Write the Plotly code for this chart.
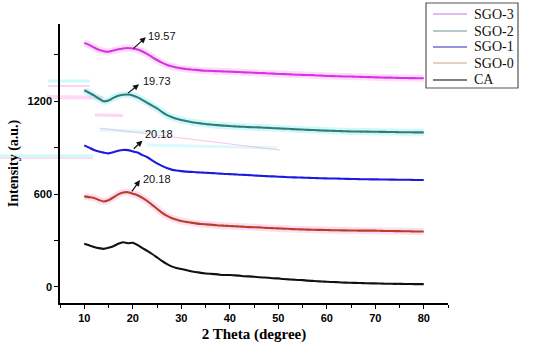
import plotly.graph_objects as go

two_theta = list(range(10, 81))

ca = [278, 268, 258, 250, 245, 252, 262, 278, 288, 282, 285, 270, 250, 232, 212, 190, 168, 148, 132, 122,
      115, 108, 100, 96, 90, 86, 84, 82, 78, 76, 76, 74, 72, 68, 67, 65, 62, 60, 58, 55,
      54, 50, 48, 46, 44, 43, 40, 38, 36, 34, 32, 31, 30, 28, 27, 26, 25, 24, 23, 22,
      22, 21, 20, 20, 19, 19, 18, 18, 17, 17, 17]
sgo0 = [585, 580, 575, 562, 552, 560, 578, 598, 610, 612, 602, 592, 575, 555, 530, 505, 480, 460, 445, 435,
        425, 420, 415, 410, 406, 404, 402, 399, 396, 395, 393, 392, 390, 388, 386, 385, 384, 382, 380, 379,
        378, 376, 375, 373, 372, 371, 370, 369, 368, 368, 367, 366, 366, 365, 365, 364, 364, 363, 363, 363,
        363, 362, 361, 361, 360, 360, 359, 359, 358, 358, 358]
sgo1 = [915, 900, 885, 875, 868, 863, 870, 880, 885, 884, 876, 868, 852, 838, 818, 798, 782, 768, 758, 752,
        748, 745, 743, 741, 739, 738, 736, 734, 732, 730, 729, 727, 725, 724, 722, 720, 718, 717, 715, 714,
        712, 711, 709, 708, 707, 706, 705, 704, 703, 702, 701, 700, 700, 699, 698, 697, 697, 696, 696, 695,
        695, 694, 694, 693, 693, 692, 692, 692, 691, 691, 691]
sgo2 = [1272, 1255, 1238, 1218, 1200, 1205, 1222, 1236, 1242, 1244, 1238, 1225, 1208, 1190, 1172, 1154, 1132, 1112, 1098, 1087,
        1079, 1072, 1066, 1061, 1057, 1053, 1050, 1047, 1044, 1042, 1040, 1038, 1036, 1035, 1033, 1032, 1031, 1029, 1028, 1026,
        1025, 1023, 1022, 1020, 1018, 1017, 1015, 1014, 1013, 1011, 1010, 1009, 1008, 1007, 1006, 1005, 1005, 1004, 1004, 1003,
        1003, 1002, 1002, 1001, 1001, 1000, 1000, 1000, 999, 999, 999]
sgo3 = [1578, 1565, 1548, 1533, 1524, 1521, 1528, 1536, 1542, 1545, 1542, 1535, 1522, 1505, 1486, 1467, 1450, 1436, 1426, 1418,
        1413, 1409, 1406, 1403, 1400, 1398, 1397, 1395, 1394, 1393, 1392, 1390, 1389, 1387, 1386, 1385, 1383, 1382, 1380, 1379,
        1377, 1376, 1375, 1373, 1372, 1371, 1370, 1369, 1367, 1366, 1364, 1363, 1362, 1361, 1360, 1360, 1359, 1358, 1357, 1356,
        1355, 1354, 1353, 1353, 1352, 1351, 1351, 1350, 1350, 1349, 1349]

series_names = ["SGO-3", "SGO-2", "SGO-1", "SGO-0", "CA"]
series_values = [sgo3, sgo2, sgo1, sgo0, ca]
line_colors = ["#D633E6", "#2F7C7A", "#1A1AE0", "#B5402A", "#111111"]
band_colors = ["rgba(255,140,230,0.30)", "rgba(120,235,235,0.35)", "rgba(0,0,0,0)",
               "rgba(255,140,200,0.30)", "rgba(0,0,0,0)"]
legend_colors = ["#D9A6E8", "#9DB6BA", "#7070D0", "#D9C5A9", "#555555"]

peak_labels = ["19.57", "19.73", "20.18", "20.18"]
arrow_tail_x = [19.8, 18.7, 19.9, 19.6]
arrow_tail_y = [1532, 1245, 884, 608]
arrow_head_x = [22.7, 21.3, 22.0, 21.5]
arrow_head_y = [1614, 1310, 945, 690]
label_x = [26.0, 24.9, 25.4, 24.9]
label_y = [1623, 1331, 986, 697]

fig = go.Figure()

# faint scan-artifact streaks seen in the source image (decoration only)
CY = "rgba(170,245,245,0.6)"
PK = "rgba(255,150,225,0.6)"
streaks = [
    dict(x0=-0.031, x1=0.077, y0=0.796, y1=0.796, color=CY, w=3),
    dict(x0=-0.031, x1=0.077, y0=0.778, y1=0.778, color=PK, w=1.5),
    dict(x0=-0.034, x1=0.111, y0=0.738, y1=0.736, color="rgba(255,170,230,0.45)", w=4),
    dict(x0=0.090, x1=0.162, y0=0.674, y1=0.672, color="rgba(255,170,230,0.5)", w=3),
    dict(x0=0.103, x1=0.276, y0=0.620, y1=0.612, color="rgba(170,245,245,0.45)", w=3),
    dict(x0=0.224, x1=0.559, y0=0.566, y1=0.556, color="rgba(170,245,245,0.45)", w=3),
    dict(x0=0.103, x1=0.567, y0=0.627, y1=0.548, color=PK, w=1),
    dict(x0=-0.155, x1=0.085, y0=0.527, y1=0.527, color=CY, w=3),
    dict(x0=-0.155, x1=0.085, y0=0.519, y1=0.519, color=PK, w=1),
]
for s in streaks:
    fig.add_shape(type="line", xref="paper", yref="paper", x0=s["x0"], x1=s["x1"], y0=s["y0"], y1=s["y1"],
                  line=dict(color=s["color"], width=s["w"]), layer="below")

for name, vals, bc in zip(series_names, series_values, band_colors):
    fig.add_trace(go.Scatter(x=two_theta, y=vals, mode="lines", line=dict(color=bc, width=7, shape="spline", smoothing=0.6),
                             showlegend=False, hoverinfo="skip"))
for name, vals, lc in zip(series_names, series_values, line_colors):
    fig.add_trace(go.Scatter(x=two_theta, y=vals, mode="lines", line=dict(color=lc, width=2.1, shape="spline", smoothing=0.6),
                             showlegend=False, name=name))

for i, lab in enumerate(peak_labels):
    fig.add_annotation(x=arrow_head_x[i], y=arrow_head_y[i], ax=arrow_tail_x[i], ay=arrow_tail_y[i],
                       xref="x", yref="y", axref="x", ayref="y", text="", showarrow=True,
                       arrowhead=2, arrowsize=1, arrowwidth=1.2, arrowcolor="#111111")
    fig.add_annotation(x=label_x[i], y=label_y[i], xref="x", yref="y", text=lab, showarrow=False,
                       font=dict(family="Liberation Sans, Arial, sans-serif", size=11, color="#111111"))

# manual legend box (paper coordinates)
fig.add_shape(type="rect", xref="paper", yref="paper", x0=0.9433, x1=1.1804, y0=0.7706, y1=1.0753,
              line=dict(color="#555555", width=1.2), fillcolor="white", layer="above")
legend_rows_y = [1.0358, 0.9749, 0.9176, 0.8602, 0.7993]
for name, lc, yy in zip(series_names, legend_colors, legend_rows_y):
    fig.add_shape(type="line", xref="paper", yref="paper", x0=0.9613, x1=1.0490, y0=yy, y1=yy,
                  line=dict(color=lc, width=1.5), layer="above")
    fig.add_annotation(x=1.0619, y=yy, xref="paper", yref="paper", text=name, showarrow=False,
                       xanchor="left", yanchor="middle",
                       font=dict(family="Liberation Serif, Times New Roman, serif", size=14, color="#111111"))

fig.update_layout(
    width=550, height=347,
    margin=dict(l=60, r=102, t=24, b=44, autoexpand=False),
    paper_bgcolor="white", plot_bgcolor="white",
    showlegend=False,
    xaxis=dict(range=[5, 85], tickvals=[10, 20, 30, 40, 50, 60, 70, 80],
               ticks="outside", ticklen=4, tickwidth=1.2, tickcolor="black",
               minor=dict(dtick=5, tick0=5, ticks="outside", ticklen=3, tickcolor="black"),
               showline=True, linecolor="black", linewidth=1.5, showgrid=False, zeroline=False,
               tickfont=dict(family="Liberation Sans, Arial, sans-serif", size=11, color="black", weight="bold"),
               title=dict(text="<b>2 Theta (degree)</b>", standoff=6,
                          font=dict(family="Liberation Serif, Times New Roman, serif", size=15, color="black"))),
    yaxis=dict(range=[-105, 1700], tickvals=[0, 600, 1200],
               ticks="outside", ticklen=4, tickwidth=1.2, tickcolor="black",
               minor=dict(dtick=600, tick0=300, ticks="outside", ticklen=4, tickcolor="black"),
               showline=True, linecolor="black", linewidth=1.5, showgrid=False, zeroline=False,
               tickfont=dict(family="Liberation Sans, Arial, sans-serif", size=11, color="black", weight="bold"),
               title=dict(text="<b>Intensity (a.u.)</b>", standoff=6,
                          font=dict(family="Liberation Serif, Times New Roman, serif", size=14, color="black"))),
)

fig.write_html("out.html", config={"displayModeBar": False},
               post_script="document.body.style.margin='0';document.body.style.overflow='hidden';")
